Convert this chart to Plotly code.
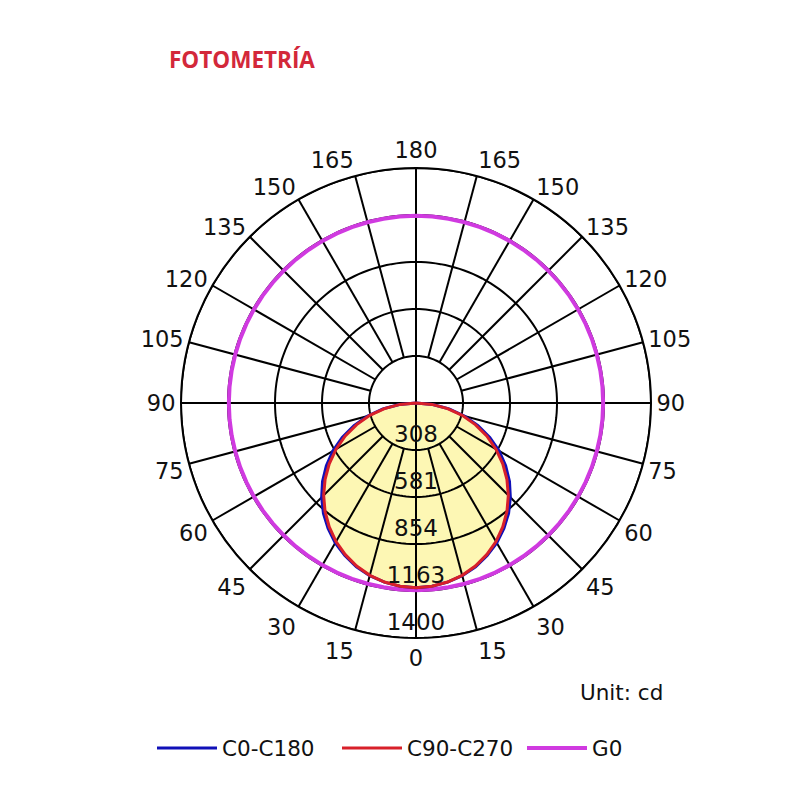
import plotly.graph_objects as go

# photometric data (cd), gamma angles
gamma = [0, 5, 10, 15, 20, 25, 30, 35, 40, 45, 50, 55, 60, 65, 70, 75, 80, 85, 90]
c0_c180 = [1100, 1096, 1084, 1065, 1038, 1003, 962, 913, 858, 795, 727, 652, 572, 485, 393, 298, 200, 100, 0]
c90_c270 = [1100, 1096, 1083, 1063, 1034, 997, 953, 901, 843, 778, 707, 631, 550, 465, 376, 285, 191, 96, 0]
g0_theta = list(range(0, 361, 5))
g0_value = 1115

ring_vals = [280, 560, 840, 1120, 1400]
ring_labels = ['308', '581', '854', '1163', '1400']
spoke_angles = list(range(0, 360, 15))
angle_labels = [str(a if a <= 180 else 360 - a) for a in spoke_angles]
circle_theta = list(range(0, 361, 2))

FONT = 'DejaVu Sans'


def both_sides(vals):
    # C0 side then mirrored C180 side, closed at the centre
    theta = [360 - g for g in gamma[::-1]] + gamma[1:]
    r = vals[::-1] + vals[1:]
    return theta, r


fig = go.Figure()

# yellow fill under the grid
th, rr = both_sides(c0_c180)
fig.add_trace(go.Scatterpolar(theta=th, r=rr, mode='lines', fill='toself', fillcolor='#fdf7b4',
                              line=dict(width=0), showlegend=False, hoverinfo='skip'))

# grid rings
for rv in ring_vals:
    fig.add_trace(go.Scatterpolar(theta=circle_theta, r=[rv] * len(circle_theta), mode='lines',
                                  line=dict(color='black', width=2), showlegend=False, hoverinfo='skip'))

# spokes (main axes go through the centre, the rest start at the first ring)
sp_t, sp_r = [], []
for a in spoke_angles:
    start = 0 if a % 90 == 0 else ring_vals[0]
    sp_t += [a, a, None]
    sp_r += [start, ring_vals[-1], None]
fig.add_trace(go.Scatterpolar(theta=sp_t, r=sp_r, mode='lines', line=dict(color='black', width=2),
                              showlegend=False, hoverinfo='skip'))

# curves
fig.add_trace(go.Scatterpolar(theta=g0_theta, r=[g0_value] * len(g0_theta), mode='lines', name='G0',
                              line=dict(color='#d03ae0', width=4), legendrank=3))
th, rr = both_sides(c0_c180)
fig.add_trace(go.Scatterpolar(theta=th, r=rr, mode='lines', name='C0-C180',
                              line=dict(color='#1010b8', width=3), legendrank=1))
th, rr = both_sides(c90_c270)
fig.add_trace(go.Scatterpolar(theta=th, r=rr, mode='lines', name='C90-C270',
                              line=dict(color='#d8202a', width=3), legendrank=2))

# ring values along the 0 direction
fig.add_trace(go.Scatterpolar(theta=[0] * len(ring_vals), r=[v - 80 for v in ring_vals], mode='text',
                              text=ring_labels, textfont=dict(family=FONT, size=23, color='#111'),
                              showlegend=False, hoverinfo='skip'))

fig.update_layout(
    width=800, height=800,
    margin=dict(l=0, r=0, t=0, b=0),
    paper_bgcolor='white',
    polar=dict(
        domain=dict(x=[0.21625, 0.80375], y=[0.2125, 0.8]),
        bgcolor='white',
        radialaxis=dict(range=[0, 1400], showgrid=False, showticklabels=False, showline=False, ticks=''),
        angularaxis=dict(rotation=270, direction='clockwise', tickmode='array',
                         tickvals=spoke_angles, ticktext=angle_labels, showgrid=False,
                         showline=True, linecolor='black', linewidth=2, ticks='',
                         tickfont=dict(family=FONT, size=22.5, color='#111')),
    ),
    legend=dict(orientation='h', x=0.18, xanchor='left', y=0.075, yanchor='middle',
                entrywidth=110, entrywidthmode='pixels', itemwidth=60,
                font=dict(family=FONT, size=21.5, color='#111'), traceorder='normal'),
    annotations=[
        dict(text='<b>FOTOMETRÍA</b>', x=0.19875, y=0.935, xref='paper', yref='paper',
             xanchor='left', yanchor='middle', showarrow=False,
             font=dict(family='Open Sans', size=22.5, color='#d3283a')),
        dict(text='Unit: cd', x=0.7125, y=0.145, xref='paper', yref='paper',
             xanchor='left', yanchor='middle', showarrow=False,
             font=dict(family=FONT, size=21.5, color='#111')),
    ],
)

fig.write_html('out.html')
